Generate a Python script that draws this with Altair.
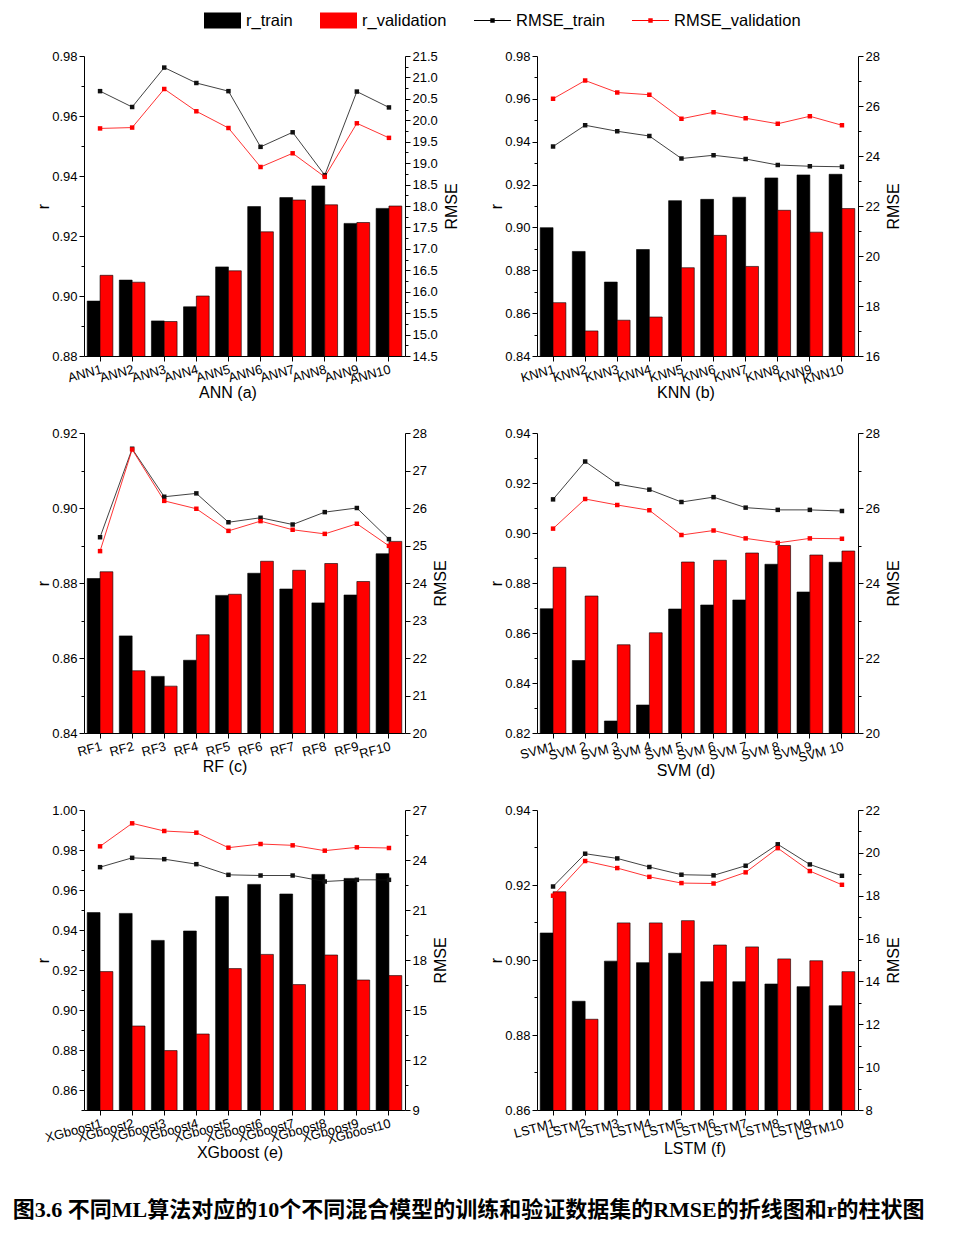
import altair as alt
import pandas as pd

# ---------------- data ----------------
series_bar = ["r_train", "r_validation"]
series_line = ["RMSE_train", "RMSE_validation"]
series_all = series_bar + series_line

ann_models = ["ANN1", "ANN2", "ANN3", "ANN4", "ANN5", "ANN6", "ANN7", "ANN8", "ANN9", "ANN10"]
ann_r_train = [0.8983, 0.9053, 0.8917, 0.8964, 0.9097, 0.9298, 0.9328, 0.9367, 0.9242, 0.9292]
ann_r_val = [0.9069, 0.9046, 0.8915, 0.9000, 0.9084, 0.9214, 0.9320, 0.9304, 0.9245, 0.9300]
ann_rmse_train = [20.68, 20.31, 21.23, 20.87, 20.68, 19.38, 19.72, 18.72, 20.67, 20.30]
ann_rmse_val = [19.81, 19.83, 20.73, 20.21, 19.82, 18.91, 19.23, 18.68, 19.93, 19.59]

knn_models = ["KNN1", "KNN2", "KNN3", "KNN4", "KNN5", "KNN6", "KNN7", "KNN8", "KNN9", "KNN10"]
knn_r_train = [0.8999, 0.8888, 0.8745, 0.8897, 0.9125, 0.9131, 0.9141, 0.9231, 0.9245, 0.9248]
knn_r_val = [0.8649, 0.8517, 0.8567, 0.8582, 0.8812, 0.8963, 0.8818, 0.9080, 0.8978, 0.9088]
knn_rmse_train = [24.38, 25.23, 24.99, 24.80, 23.90, 24.03, 23.88, 23.64, 23.59, 23.57]
knn_rmse_val = [26.29, 27.02, 26.54, 26.45, 25.49, 25.75, 25.51, 25.29, 25.59, 25.23]

rf_models = ["RF1", "RF2", "RF3", "RF4", "RF5", "RF6", "RF7", "RF8", "RF9", "RF10"]
rf_r_train = [0.8812, 0.8659, 0.8551, 0.8594, 0.8767, 0.8826, 0.8784, 0.8747, 0.8768, 0.8878]
rf_r_val = [0.8830, 0.8566, 0.8525, 0.8662, 0.8770, 0.8858, 0.8834, 0.8852, 0.8804, 0.8911]
rf_rmse_train = [25.22, 27.58, 26.30, 26.39, 25.62, 25.74, 25.56, 25.89, 26.00, 25.17]
rf_rmse_val = [24.85, 27.56, 26.19, 25.98, 25.39, 25.65, 25.42, 25.31, 25.58, 24.99]

svm_models = ["SVM1", "SVM 2", "SVM 3", "SVM 4", "SVM 5", "SVM 6", "SVM 7", "SVM 8", "SVM 9", "SVM 10"]
svm_r_train = [0.8697, 0.8490, 0.8248, 0.8312, 0.8696, 0.8712, 0.8732, 0.8875, 0.8764, 0.8883]
svm_r_val = [0.8863, 0.8748, 0.8553, 0.8601, 0.8884, 0.8891, 0.8920, 0.8950, 0.8912, 0.8928]
svm_rmse_train = [26.23, 27.24, 26.64, 26.49, 26.16, 26.29, 26.01, 25.95, 25.95, 25.92]
svm_rmse_val = [25.45, 26.24, 26.08, 25.94, 25.28, 25.40, 25.19, 25.07, 25.19, 25.18]

xgb_models = ["XGboost1", "XGboost2", "XGboost3", "XGboost4", "XGboost5",
              "XGboost6", "XGboost7", "XGboost8", "XGboost9", "XGboost10"]
xgb_r_train = [0.9487, 0.9483, 0.9348, 0.9395, 0.9567, 0.9628, 0.9580, 0.9678, 0.9658, 0.9682]
xgb_r_val = [0.9192, 0.8920, 0.8797, 0.8880, 0.9207, 0.9278, 0.9127, 0.9275, 0.9150, 0.9172]
xgb_rmse_train = [23.57, 24.13, 24.05, 23.75, 23.11, 23.07, 23.07, 22.71, 22.81, 22.81]
xgb_rmse_val = [24.82, 26.20, 25.74, 25.64, 24.74, 24.96, 24.88, 24.56, 24.76, 24.72]

lstm_models = ["LSTM1", "LSTM2", "LSTM3", "LSTM4", "LSTM5", "LSTM6", "LSTM7", "LSTM8", "LSTM9", "LSTM10"]
lstm_r_train = [0.9072, 0.8890, 0.8997, 0.8993, 0.9018, 0.8942, 0.8942, 0.8936, 0.8929, 0.8878]
lstm_r_val = [0.9182, 0.8842, 0.9099, 0.9099, 0.9105, 0.9040, 0.9035, 0.9003, 0.8998, 0.8969]
lstm_rmse_train = [18.43, 19.96, 19.74, 19.34, 18.98, 18.95, 19.40, 20.40, 19.46, 18.93]
lstm_rmse_val = [18.00, 19.62, 19.29, 18.88, 18.59, 18.57, 19.09, 20.22, 19.15, 18.51]

caption = "图3.6  不同ML算法对应的10个不同混合模型的训练和验证数据集的RMSE的折线图和r的柱状图"

# ---------------- styling helpers ----------------
FONT = "Liberation Sans"
W, H = 321, 300

# colour scale for the drawn marks (domain order differs from the legend scale on purpose)
color_scale = alt.Scale(domain=series_line + series_bar,
                        range=["#111111", "#ff0000", "#000000", "#ff0000"])
RECT = "M-1,-0.43H1V0.43H-1Z"
LINEPT = "M-1,-0.025H1V0.025H-1Z M-0.12,-0.12H0.12V0.12H-0.12Z"


def tick_list(lo, hi, step):
    n = int(round((hi - lo) / step))
    return [round(lo + i * step, 4) for i in range(n + 1)]


def y_axis(orient, dom, major_lo, step, fmt, title):
    allt = tick_list(dom[0], dom[1], step / 2)
    major = tick_list(major_lo, dom[1], step)
    arr = "[" + ",".join(repr(v) for v in major) + "]"
    test = f"indexof({arr}, datum.value) >= 0"
    kw = dict(
        orient=orient, values=allt, format=fmt, title=title,
        labelExpr=f"{test} ? datum.label : ''",
        tickSize={"condition": {"test": test, "value": 5}, "value": 3},
        labelPadding=2, titlePadding=0, labelOverlap=False,
    )
    if orient == "right":
        kw.update(titleAngle=270, titleBaseline="top", titlePadding=6)
    return alt.Axis(**kw)


def legend_def():
    return alt.Legend(
        orient="none", legendX=120, legendY=-54, direction="horizontal",
        title=None, symbolSize=1369, symbolStrokeWidth=0, symbolOpacity=1,
        labelFont=FONT, labelFontSize=16.5, labelColor="#000000",
        labelOffset=5, columnPadding=27)


def panel(models, rt, rv, et, ev, xtitle, tdx, ldom, lmaj, rdom, rstep, rfmt, legend=False):
    bar_df = pd.DataFrame({
        "model": models * 2,
        "series": [series_bar[0]] * len(models) + [series_bar[1]] * len(models),
        "value": rt + rv,
    })
    line_df = pd.DataFrame({
        "model": models * 2,
        "series": [series_line[0]] * len(models) + [series_line[1]] * len(models),
        "value": et + ev,
    })
    x = alt.X(
        "model:N", sort=models, title=xtitle,
        scale=alt.Scale(paddingInner=0.2, paddingOuter=0.1),
        axis=alt.Axis(labelAngle=345, tickSize=5, labelPadding=2, titlePadding=-2,
                      titleX=W / 2 + tdx),
    )
    bars = alt.Chart(bar_df).mark_bar(stroke="#000000", strokeWidth=0.6, clip=True).encode(
        x=x,
        xOffset=alt.XOffset("series:N", sort=series_bar,
                            scale=alt.Scale(paddingInner=0, paddingOuter=0)),
        y=alt.Y("value:Q", scale=alt.Scale(domain=ldom, nice=False, zero=False),
                axis=y_axis("left", ldom, lmaj, 0.02, ".2f", "r")),
        color=alt.Color("series:N", scale=color_scale, legend=None),
    )
    lines = alt.Chart(line_df).mark_line(
        strokeWidth=0.8,
        point=alt.OverlayMarkDef(shape="square", filled=True, size=20),
    ).encode(
        x=alt.X("model:N", sort=models),
        y=alt.Y("value:Q", scale=alt.Scale(domain=rdom, nice=False, zero=False),
                axis=y_axis("right", rdom, rdom[0], rstep, rfmt, "RMSE")),
        color=alt.Color("series:N", scale=color_scale, legend=None),
    )
    layers = [bars, lines]
    if legend:
        leg_df = pd.DataFrame({"series": series_all})
        hidden = alt.Chart(leg_df).mark_point(filled=True, opacity=0).encode(
            fill=alt.Fill("series:N", sort=series_all,
                          scale=alt.Scale(domain=series_all,
                                          range=["#000000", "#ff0000", "#000000", "#ff0000"]),
                          legend=legend_def()),
            shape=alt.Shape("series:N", sort=series_all,
                            scale=alt.Scale(domain=series_all, range=[RECT, RECT, LINEPT, LINEPT]),
                            legend=legend_def()),
        )
        layers.append(hidden)
    return alt.layer(*layers).resolve_scale(y="independent").properties(width=W, height=H)


pa = panel(ann_models, ann_r_train, ann_r_val, ann_rmse_train, ann_rmse_val, "ANN (a)", -17,
           [0.88, 0.98], 0.88, [14.5, 21.5], 0.5, ".1f", legend=True)
pb = panel(knn_models, knn_r_train, knn_r_val, knn_rmse_train, knn_rmse_val, "KNN (b)", -12,
           [0.84, 0.98], 0.84, [16, 28], 2, "d")
pc = panel(rf_models, rf_r_train, rf_r_val, rf_rmse_train, rf_rmse_val, "RF (c)", -20,
           [0.84, 0.92], 0.84, [20, 28], 1, "d")
pd_ = panel(svm_models, svm_r_train, svm_r_val, svm_rmse_train, svm_rmse_val, "SVM (d)", -12,
            [0.82, 0.94], 0.82, [20, 28], 2, "d")
pe = panel(xgb_models, xgb_r_train, xgb_r_val, xgb_rmse_train, xgb_rmse_val, "XGboost (e)", -5,
           [0.85, 1.00], 0.86, [9, 27], 3, "d")
pf = panel(lstm_models, lstm_r_train, lstm_r_val, lstm_rmse_train, lstm_rmse_val, "LSTM (f)", -3,
           [0.86, 0.94], 0.86, [8, 22], 2, "d")

chart = alt.concat(pa, pb, pc, pd_, pe, pf, columns=2,
                   spacing={"row": 77, "column": 132}, bounds="flush").properties(
    title=alt.TitleParams(
        text=caption, orient="bottom", anchor="middle",
        font="Liberation Serif, Noto Sans CJK SC", fontSize=22, fontWeight="bold",
        color="#000000", offset=40,
    ),
    padding={"left": 1, "top": -6, "right": 5, "bottom": 10},
).configure_view(stroke=None).configure_axis(
    domainColor="#000000", tickColor="#000000", labelColor="#000000", titleColor="#000000",
    labelFont=FONT, titleFont=FONT, labelFontSize=13, titleFontSize=16,
    titleFontWeight="normal", grid=False, domainWidth=1, tickWidth=1,
).configure_legend(labelFont=FONT)

chart.save("out.html", embed_options={"renderer": "svg", "actions": False})
